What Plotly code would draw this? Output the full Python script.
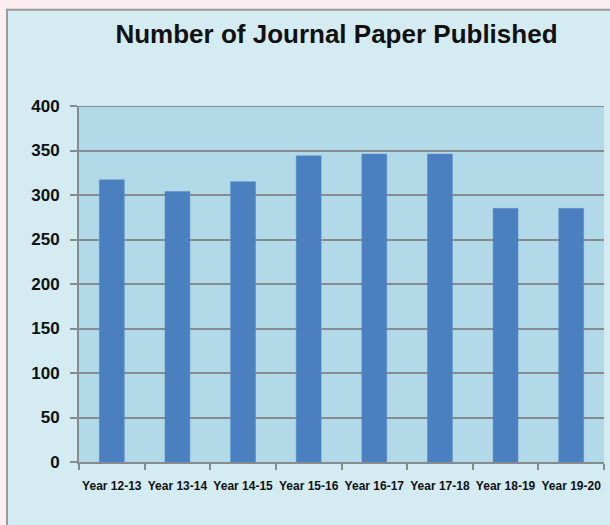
import plotly.graph_objects as go

categories = ["Year 12-13", "Year 13-14", "Year 14-15", "Year 15-16",
              "Year 16-17", "Year 17-18", "Year 18-19", "Year 19-20"]
papers = [317, 304, 315, 344, 346, 346, 285, 285]
y_ticks = [0, 50, 100, 150, 200, 250, 300, 350, 400]
title_text = "Number of Journal Paper Published"

W, H = 610, 525
ml, mr, mt, mb = 79, 6, 105.5, 62.7
pw, ph = W - ml - mr, H - mt - mb

fig = go.Figure()
fig.add_trace(go.Bar(
    x=categories, y=papers,
    marker=dict(color="#4a7fc0", line=dict(color="#5a8cc8", width=0.5)),
    width=0.38,
))

fig.update_layout(
    width=W, height=H,
    margin=dict(l=ml, r=mr, t=mt, b=mb, pad=0),
    paper_bgcolor="#fcedf0",
    plot_bgcolor="#b2d9e8",
    showlegend=False,
    title=dict(
        text="<b>" + title_text + "</b>",
        x=336.5 / W, xanchor="center",
        y=1 - 34 / H, yanchor="middle",
        xref="container", yref="container",
        font=dict(family="Liberation Sans, Arial, sans-serif", size=26, color="#111111"),
    ),
    shapes=[
        dict(type="rect", xref="paper", yref="paper",
             x0=-(ml - 7) / pw, x1=1 + (mr + 20) / pw,
             y0=-(mb + 20) / ph, y1=1 + (mt - 9) / ph,
             fillcolor="#d3ebf1", line=dict(color="#9a9a9a", width=2), layer="below"),
        dict(type="rect", xref="paper", yref="paper",
             x0=0, x1=1, y0=0, y1=1,
             fillcolor="#b2d9e8", line=dict(width=0), layer="below"),
        dict(type="line", xref="paper", yref="y", x0=-7 / pw, x1=1, y0=400, y1=400,
             line=dict(color="#868b90", width=2), layer="above"),
    ],
)

fig.update_xaxes(
    showgrid=False, showline=True, linecolor="#868b90", linewidth=2,
    ticks="outside", tickson="boundaries", ticklen=6, tickwidth=2, tickcolor="#868b90",
    tickfont=dict(family="Liberation Sans, Arial, sans-serif", size=12, color="#111111"),
    ticklabelstandoff=12,
    tickangle=0, fixedrange=True,
    tickvals=categories, ticktext=["<b>" + c + "</b>" for c in categories],
)
fig.update_yaxes(
    range=[0, 400], tickvals=y_ticks, ticktext=["<b>%d</b>" % v for v in y_ticks],
    showgrid=True, gridcolor="#868b90", gridwidth=2,
    showline=True, linecolor="#868b90", linewidth=2, zeroline=False,
    ticks="outside", ticklen=7, tickwidth=2, tickcolor="#868b90",
    tickfont=dict(family="Liberation Sans, Arial, sans-serif", size=17, color="#111111"),
    ticklabelstandoff=7,
    fixedrange=True,
)

fig.write_html(
    "out.html",
    config={"displayModeBar": False},
    post_script="document.body.style.margin='0';document.body.style.padding='0';",
)
